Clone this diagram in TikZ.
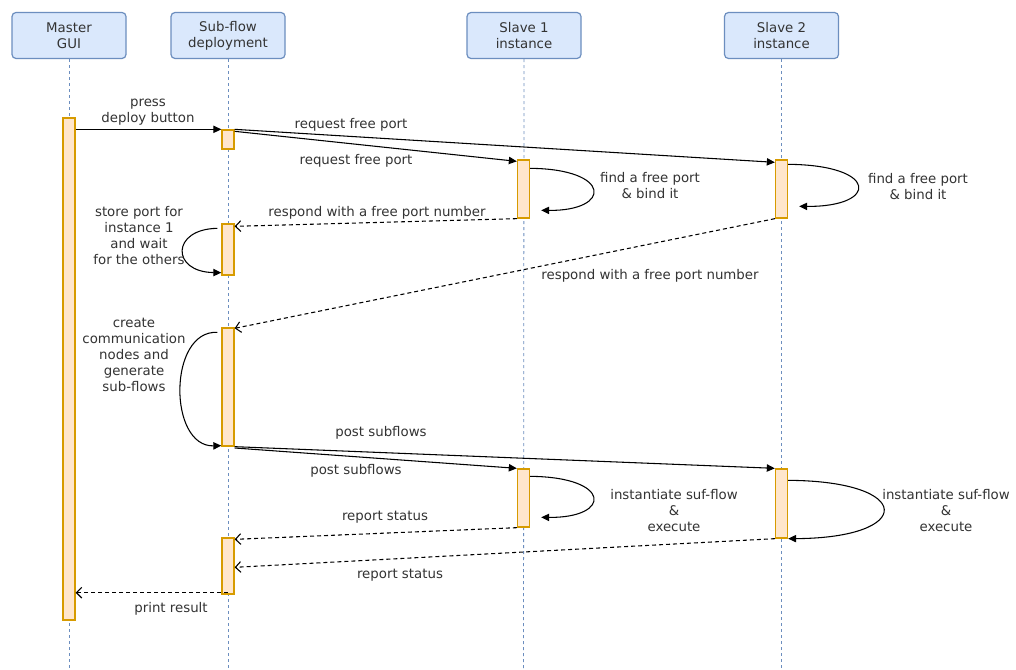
\documentclass[tikz,border=0pt]{standalone}
\usepackage{fontspec}
\setmainfont{DejaVu Sans}
\usetikzlibrary{arrows.meta}
\definecolor{hdrfill}{HTML}{DAE8FC}
\definecolor{hdrline}{HTML}{6C8EBF}
\definecolor{actfill}{HTML}{FFE6CC}
\definecolor{actline}{HTML}{D79B00}
\definecolor{txt}{HTML}{333333}
\begin{document}
\begin{tikzpicture}[x=0.75pt,y=-0.75pt,
  every node/.style={font=\fontsize{10}{12}\selectfont, text=txt},
  header/.style={draw=hdrline, fill=hdrfill, rounded corners=3pt, minimum width=85.5pt, minimum height=34.5pt, align=center, line width=0.9pt, inner sep=0pt},
  lifeline/.style={draw=hdrline, line width=0.6pt, dash pattern=on 2.25pt off 2.25pt},
  act/.style={draw=actline, fill=actfill, line width=1pt, minimum width=9pt, inner sep=0pt},
  msg/.style={draw=black, line width=0.8pt, -{Triangle[length=6pt,width=5.5pt]}},
  ret/.style={draw=black, line width=0.8pt, dash pattern=on 3pt off 2.25pt, -{Straight Barb[length=4pt,width=8pt]}},
  lbl/.style={align=center, inner sep=0pt},
]
\useasboundingbox[fill=white] (0,0) rectangle (1016,670);

% headers
\node[header] (hm) at (69,35.5) {Master\\GUI};
\node[header] (hs) at (228,35.5) {Sub-flow\\deployment};
\node[header] (ha) at (524,35.5) {Slave 1\\instance};
\node[header] (hb) at (781.5,35.5) {Slave 2\\instance};

% lifelines
\coordinate (em) at (69,670);
\coordinate (es) at (228,670);
\coordinate (ea) at (523.5,670);
\coordinate (eb) at (781.5,670);
\draw[lifeline] (hm.south) -- (em);
\draw[lifeline] (hs.south) -- (es);
\draw[lifeline] (ha.south) -- (ea);
\draw[lifeline] (hb.south) -- (eb);

% activations
\node[act, minimum height=376.5pt] (m) at (69,369) {};
\node[act, minimum height=14.25pt] (s1) at (228,139.5) {};
\node[act, minimum height=38.25pt] (s2) at (228,249.5) {};
\node[act, minimum height=88.5pt] (s3) at (228,387) {};
\node[act, minimum height=42pt] (s4) at (228,566) {};
\node[act, minimum height=43.5pt] (a1) at (523.5,189) {};
\node[act, minimum height=43.5pt] (b1) at (781.5,189) {};
\node[act, minimum height=43.5pt] (a2) at (523.5,498) {};
\node[act, minimum height=51.75pt] (b2) at (781.5,503.5) {};

% messages
\draw[msg] (m.east |- s1.north) -- (s1.north west);
\draw[msg] (s1.north east) -- ([yshift=-2.25pt]b1.north west);
\draw[msg] ([yshift=-1.5pt]s1.north east) -- ([yshift=-1.5pt]a1.north west);
\draw[msg] ([yshift=-6.75pt]a1.north east) .. controls (612,169) and (612,211) .. ([xshift=8.25pt,yshift=-38.25pt]a1.north east);
\draw[msg] ([yshift=-3.75pt]b1.north east) .. controls (879,165) and (879,207) .. ([xshift=8.25pt,yshift=-35.25pt]b1.north east);
\draw[ret] (a1.south west) -- ([yshift=-2.25pt]s2.north east);
\draw[msg] ([xshift=-3pt,yshift=-3.75pt]s2.north west) .. controls (171,229) and (171,272) .. ([yshift=2.25pt]s2.south west);
\draw[ret] (b1.south west) -- ([yshift=-0.75pt]s3.north east);
\draw[msg] ([xshift=-3pt,yshift=-3.75pt]s3.north west) .. controls (168,330) and (168,447) .. ([yshift=0.75pt]s3.south west);
\draw[msg] (s3.south east) -- (b2.north west);
\draw[msg] ([yshift=-1pt]s3.south east) -- (a2.north west);
\draw[msg] ([yshift=-6pt]a2.north east) .. controls (612,477) and (612,518) .. ([xshift=8.25pt,yshift=-36.75pt]a2.north east);
\draw[msg] ([yshift=-9pt]b2.north east) .. controls (915,481) and (915,538) .. (b2.south east);
\draw[ret] (a2.south west) -- ([yshift=-1.5pt]s4.north east);
\draw[ret] (b2.south west) -- ([yshift=-22.5pt]s4.north east);
\coordinate (pr) at ([yshift=1.5pt]s4.south);
\draw[ret] (pr) -- (m.east |- pr);

% labels
\node[lbl] (l1) at (148,112) {press\\deploy button};
\node[lbl] (l2) at (351,125) {request free port};
\node[lbl] (l3) at (356,161) {request free port};
\node[lbl] (l4) at (650,186) {find a free port\\\& bind it};
\node[lbl] (l5) at (918,187) {find a free port\\\& bind it};
\node[lbl] (l6) at (377,213) {respond with a free port number};
\node[lbl] (l7) at (139,236) {store port for\\instance 1\\and wait\\for the others};
\node[lbl] (l8) at (650,276) {respond with a free port number};
\node[lbl] (l9) at (134,355) {create\\communication\\nodes and\\generate\\sub-flows};
\node[lbl] (l10) at (381,433) {post subflows};
\node[lbl] (l11) at (356,471) {post subflows};
\node[lbl] (l12) at (674,511) {instantiate suf-flow\\\&\\execute};
\node[lbl] (l13) at (946,511) {instantiate suf-flow\\\&\\execute};
\node[lbl] (l14) at (385,517) {report status};
\node[lbl] (l15) at (400,575) {report status};
\node[lbl] (l16) at (171,609) {print result};
\end{tikzpicture}
\end{document}
